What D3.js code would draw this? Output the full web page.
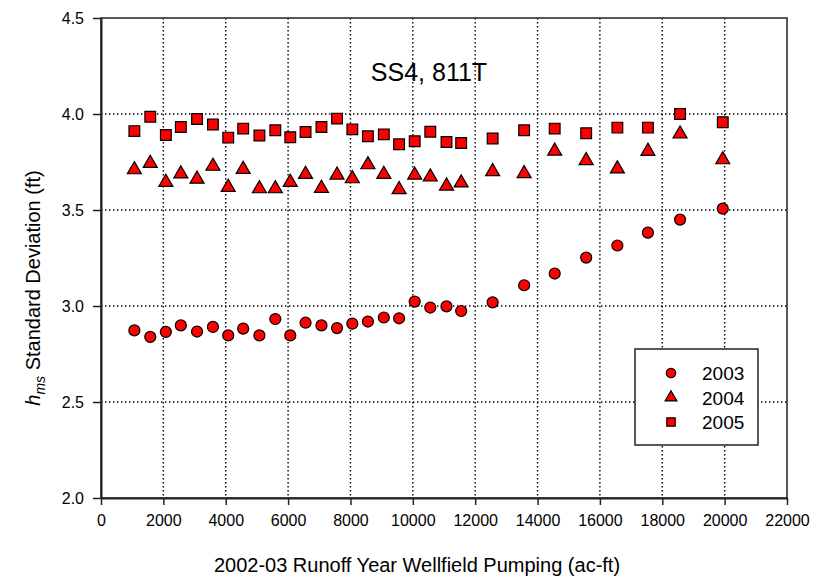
<!DOCTYPE html>
<html>
<head>
<meta charset="utf-8">
<script src="https://cdn.jsdelivr.net/npm/d3@7"></script>
<style>
  html, body { margin: 0; padding: 0; background: #fff; }
  svg { display: block; font-family: "Liberation Sans", Arial, sans-serif; }
</style>
</head>
<body>
<svg id="chart" width="814" height="578"></svg>
<script>
const pumping = [1070,1580,2080,2560,3080,3590,4080,4560,5080,5590,6070,6560,7070,7570,8060,8560,9070,9560,10060,10560,11080,11550,12560,13570,14550,15560,16560,17540,18570,19940];
const sd2003 = [2.873,2.839,2.865,2.899,2.867,2.891,2.847,2.882,2.847,2.932,2.847,2.913,2.899,2.885,2.908,2.919,2.940,2.936,3.023,2.992,2.998,2.974,3.019,3.108,3.169,3.252,3.315,3.382,3.450,3.507];
const sd2004 = [3.710,3.743,3.644,3.688,3.661,3.728,3.618,3.712,3.611,3.611,3.644,3.686,3.613,3.682,3.663,3.736,3.686,3.606,3.682,3.672,3.625,3.641,3.700,3.690,3.807,3.757,3.714,3.806,3.896,3.762];
const sd2005 = [3.911,3.986,3.891,3.932,3.974,3.945,3.877,3.924,3.888,3.915,3.879,3.906,3.932,3.976,3.920,3.884,3.894,3.842,3.858,3.908,3.854,3.849,3.872,3.915,3.924,3.900,3.929,3.929,4.000,3.957];
const seriesNames = ["2003", "2004", "2005"];
const xTicks = [0,2000,4000,6000,8000,10000,12000,14000,16000,18000,20000,22000];
const yTicks = [2.0,2.5,3.0,3.5,4.0,4.5];
const chartTitle = "SS4, 811T";
const xTitle = "2002-03 Runoff Year Wellfield Pumping (ac-ft)";

const svg = d3.select("#chart");
const L = 101, R = 787, T = 18, B = 498;
const x = d3.scaleLinear().domain([0, 22000]).range([L, R]);
const y = d3.scaleLinear().domain([2.0, 4.5]).range([B, T]);

// gridlines
const grid = svg.append("g").attr("stroke", "#000").attr("stroke-width", 1.4).attr("stroke-dasharray", "1.4,2.6");
grid.selectAll("line.vx").data(xTicks.filter(d => d > 0 && d < 22000)).join("line")
  .attr("x1", d => x(d)).attr("x2", d => x(d)).attr("y1", T).attr("y2", B);
grid.selectAll("line.hy").data(yTicks.filter(d => d > 2.0 && d < 4.5)).join("line")
  .attr("x1", L).attr("x2", R).attr("y1", d => y(d)).attr("y2", d => y(d));

// frame
svg.append("rect").attr("x", L).attr("y", T).attr("width", R - L).attr("height", B - T)
  .attr("fill", "none").attr("stroke", "#222").attr("stroke-width", 1.5);

// axes
const xAxis = d3.axisBottom(x).tickValues(xTicks).tickFormat(d3.format("d")).tickSizeInner(7).tickSizeOuter(0).tickPadding(10);
const gx = svg.append("g").attr("transform", `translate(0,${B})`).call(xAxis);
gx.select(".domain").attr("stroke", "#222").attr("stroke-width", 2);
gx.selectAll(".tick line").attr("stroke", "#222").attr("stroke-width", 1.5);
gx.selectAll(".tick text").attr("font-size", 16).attr("fill", "#000").attr("font-family", "Liberation Sans, Arial, sans-serif");

const yAxis = d3.axisLeft(y).tickValues(yTicks).tickFormat(d3.format(".1f")).tickSizeInner(8).tickSizeOuter(0).tickPadding(9);
const gy = svg.append("g").attr("transform", `translate(${L},0)`).call(yAxis);
gy.select(".domain").attr("stroke", "#222").attr("stroke-width", 2);
gy.selectAll(".tick line").attr("stroke", "#222").attr("stroke-width", 1.5);
gy.selectAll(".tick text").attr("font-size", 16).attr("fill", "#000").attr("font-family", "Liberation Sans, Arial, sans-serif");

// markers
const shapes = [d3.symbolCircle, d3.symbolTriangle, d3.symbolSquare];
const sizes = [95, 85, 115];
const allSeries = [sd2003, sd2004, sd2005];
allSeries.forEach((vals, i) => {
  const sym = d3.symbol().type(shapes[i]).size(sizes[i]);
  svg.append("g").selectAll("path").data(vals.map((v, j) => [pumping[j], v])).join("path")
    .attr("d", sym)
    .attr("transform", d => `translate(${x(d[0])},${y(d[1])})`)
    .attr("fill", "#ff0000").attr("stroke", "#000").attr("stroke-width", 1.2);
});

// titles
svg.append("text").attr("x", 429).attr("y", 81).attr("text-anchor", "middle")
  .attr("font-size", 25).attr("fill", "#000").text(chartTitle);
svg.append("text").attr("x", (L + R) / 2 - 27).attr("y", 572).attr("text-anchor", "middle")
  .attr("font-size", 20).attr("fill", "#000").text(xTitle);

const yt = svg.append("text").attr("transform", "translate(40,288) rotate(-90)")
  .attr("text-anchor", "middle").attr("font-size", 20).attr("fill", "#000");
yt.append("tspan").attr("font-style", "italic").text("h");
yt.append("tspan").attr("font-style", "italic").attr("font-size", 14).attr("dy", 5).text("ms");
yt.append("tspan").attr("dy", -5).text(" Standard Deviation (ft)");

// legend
const lg = svg.append("g");
lg.append("rect").attr("x", 635).attr("y", 349).attr("width", 123).attr("height", 96)
  .attr("fill", "#fff").attr("stroke", "#222").attr("stroke-width", 1.5);
const legSizes = [70, 60, 70];
seriesNames.forEach((name, i) => {
  const cy = 373 + i * 24.5;
  lg.append("path").attr("d", d3.symbol().type(shapes[i]).size(legSizes[i]))
    .attr("transform", `translate(671,${cy})`)
    .attr("fill", "#ff0000").attr("stroke", "#000").attr("stroke-width", 1.2);
  lg.append("text").attr("x", 702).attr("y", cy + 7).attr("font-size", 19).attr("fill", "#000").text(name);
});
</script>
</body>
</html>
